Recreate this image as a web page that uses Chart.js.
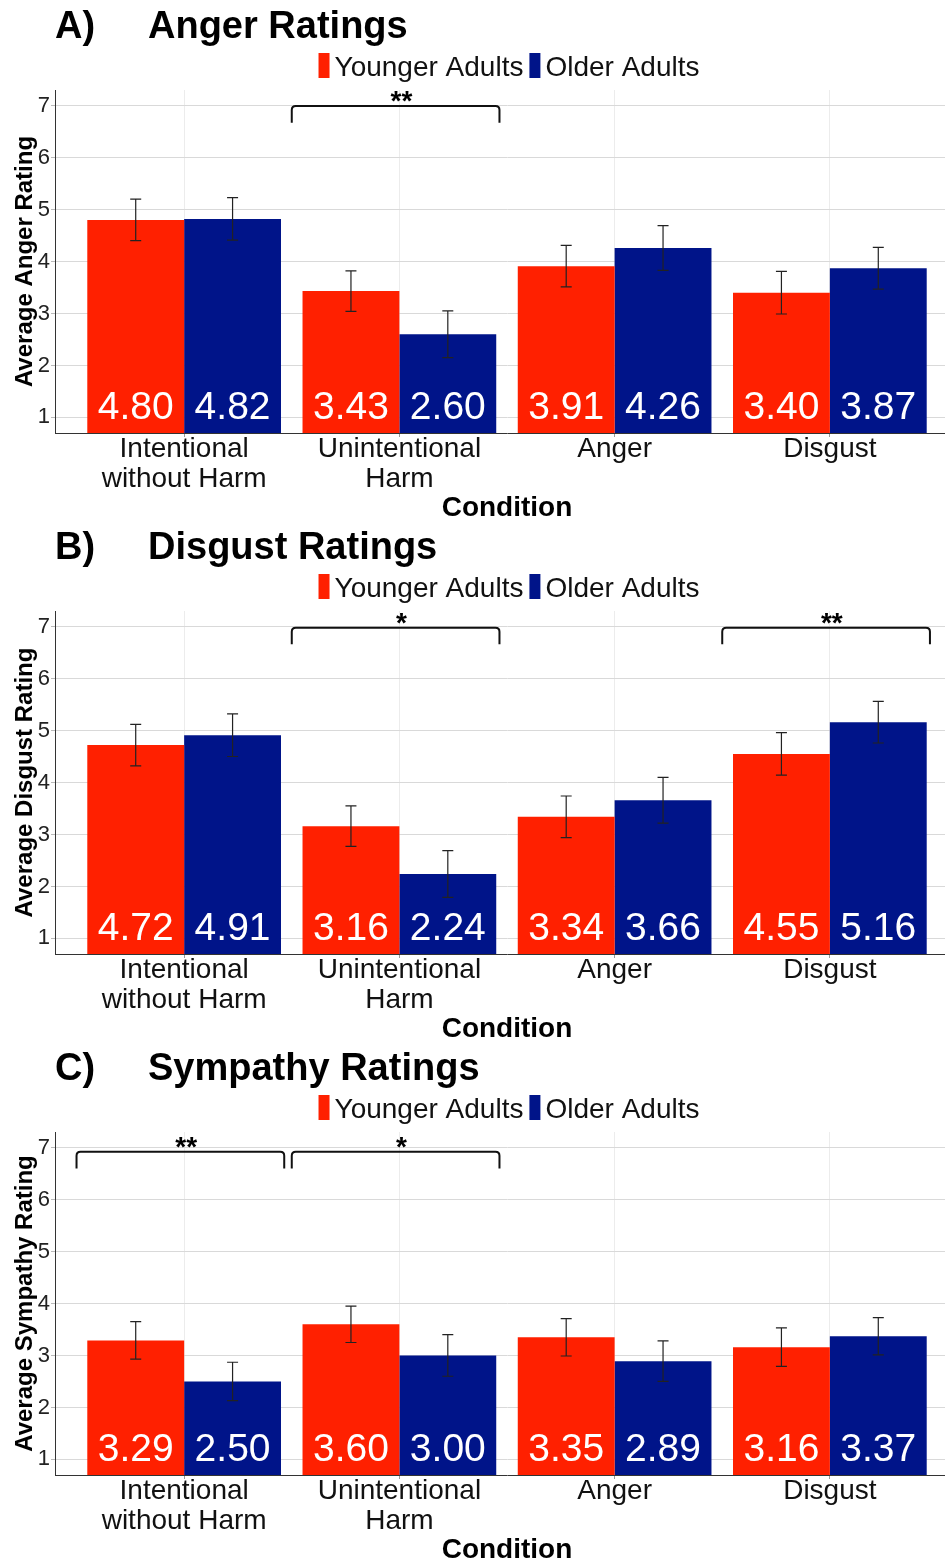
<!DOCTYPE html>
<html>
<head>
<meta charset="utf-8">
<script src="https://cdn.jsdelivr.net/npm/chart.js@4.4.1/dist/chart.umd.min.js"></script>
<style>
    body { margin: 0; background: #fff; width: 945px; overflow: hidden; }
    .panel { width: 945px; height: 521px; overflow: hidden; }
    canvas { display: block; }
</style>
</head>
<body>
<div class="panel"><canvas id="angerChart" width="962" height="521"></canvas></div>
<div class="panel"><canvas id="disgustChart" width="962" height="521"></canvas></div>
<div class="panel"><canvas id="sympathyChart" width="962" height="521"></canvas></div>
<script>
// ============================================
// DATA
// ============================================
const conditions = [['Intentional', 'without Harm'], ['Unintentional', 'Harm'], 'Anger', 'Disgust'];
const groups = ['Younger Adults', 'Older Adults'];
const groupColors = ['#ff2000', '#001489'];
const yTicks = [1, 2, 3, 4, 5, 6, 7];

// A) Anger
const angerYounger = [4.80, 3.43, 3.91, 3.40];
const angerOlder = [4.82, 2.60, 4.26, 3.87];
const angerYoungerSE = [0.40, 0.39, 0.40, 0.41];
const angerOlderSE = [0.41, 0.45, 0.43, 0.40];
const angerSigConditions = [1];
const angerSigLabels = ['**'];

// B) Disgust
const disgustYounger = [4.72, 3.16, 3.34, 4.55];
const disgustOlder = [4.91, 2.24, 3.66, 5.16];
const disgustYoungerSE = [0.40, 0.39, 0.40, 0.41];
const disgustOlderSE = [0.41, 0.45, 0.44, 0.40];
const disgustSigConditions = [1, 3];
const disgustSigLabels = ['*', '**'];

// C) Sympathy
const sympathyYounger = [3.29, 3.60, 3.35, 3.16];
const sympathyOlder = [2.50, 3.00, 2.89, 3.37];
const sympathyYoungerSE = [0.36, 0.35, 0.36, 0.37];
const sympathyOlderSE = [0.37, 0.40, 0.39, 0.36];
const sympathySigConditions = [0, 1];
const sympathySigLabels = ['**', '*'];

const FONT = '"Liberation Sans", Arial, Helvetica, sans-serif';
Chart.defaults.font.family = FONT;
Chart.defaults.color = '#111';

// ============================================
// DRAWING HELPERS (title, legend, error bars, labels, brackets)
// ============================================
const panelPlugin = {
    id: 'panelPlugin',
    afterDraw(chart) {
        const ctx = chart.ctx;
        const cfg = chart.options.plugins.panelPlugin;
        const area = chart.chartArea;

        ctx.save();
        // title
        ctx.fillStyle = '#000';
        ctx.textBaseline = 'alphabetic';
        ctx.textAlign = 'left';
        ctx.font = 'bold 38px ' + FONT;
        ctx.fillText(cfg.letter, 55, 38);
        ctx.fillText(cfg.title, 148, 38);

        // legend
        ctx.font = '28px ' + FONT;
        const boxW = 11, boxH = 25, gapText = 5, gapItem = 6;
        const widths = groups.map(g => ctx.measureText(g).width);
        const total = widths.reduce((s, w) => s + boxW + gapText + w, 0) + gapItem * (groups.length - 1);
        let lx = (area.left + area.right) / 2 + 2 - total / 2;
        groups.forEach((g, i) => {
            ctx.fillStyle = groupColors[i];
            ctx.fillRect(lx, 53, boxW, boxH);
            lx += boxW + gapText;
            ctx.fillStyle = '#111';
            ctx.fillText(g, lx, 76);
            lx += widths[i] + gapItem;
        });
        ctx.restore();
    },
    afterDatasetsDraw(chart) {
        const ctx = chart.ctx;
        const cfg = chart.options.plugins.panelPlugin;
        const xs = chart.scales.x;
        const ys = chart.scales.y;

        ctx.save();
        // error bars
        ctx.strokeStyle = '#222';
        ctx.lineWidth = 1.2;
        chart.data.datasets.forEach((ds, d) => {
            const meta = chart.getDatasetMeta(d);
            meta.data.forEach((bar, i) => {
                const v = ds.data[i].y;
                const se = cfg.errors[d][i];
                const yTop = ys.getPixelForValue(v + se);
                const yBot = ys.getPixelForValue(v - se);
                ctx.beginPath();
                ctx.moveTo(bar.x, yTop); ctx.lineTo(bar.x, yBot);
                ctx.moveTo(bar.x - 5.5, yTop); ctx.lineTo(bar.x + 5.5, yTop);
                ctx.moveTo(bar.x - 5.5, yBot); ctx.lineTo(bar.x + 5.5, yBot);
                ctx.stroke();
            });
        });

        // value labels inside the bars
        ctx.fillStyle = '#fff';
        ctx.font = '39px ' + FONT;
        ctx.textAlign = 'center';
        ctx.textBaseline = 'middle';
        chart.data.datasets.forEach((ds, d) => {
            chart.getDatasetMeta(d).data.forEach((bar, i) => {
                ctx.fillText(ds.data[i].y.toFixed(2), bar.x, ys.getPixelForValue(1.2) + 1);
            });
        });

        // significance brackets
        ctx.strokeStyle = '#111';
        ctx.lineWidth = 2;
        ctx.fillStyle = '#000';
        ctx.font = 'bold 28px ' + FONT;
        ctx.textBaseline = 'alphabetic';
        cfg.sigConditions.forEach((c, k) => {
            const x0 = xs.getPixelForValue(c - 0.5);
            const x1 = xs.getPixelForValue(c + 0.465);
            const yT = ys.getPixelForValue(cfg.bracketLevel);
            const yB = ys.getPixelForValue(cfg.bracketLevel - 0.32);
            const r = 4;
            ctx.beginPath();
            ctx.moveTo(x0, yB);
            ctx.lineTo(x0, yT + r);
            ctx.quadraticCurveTo(x0, yT, x0 + r, yT);
            ctx.lineTo(x1 - r, yT);
            ctx.quadraticCurveTo(x1, yT, x1, yT + r);
            ctx.lineTo(x1, yB);
            ctx.stroke();
            ctx.fillText(cfg.sigLabels[k], xs.getPixelForValue(c) + 2, yT + 4);
        });
        ctx.restore();
    }
};

function makeChart(canvasId, letter, title, yTitle, younger, older, youngerSE, olderSE, sigConditions, sigLabels, bracketLevel) {
    return new Chart(document.getElementById(canvasId), {
        type: 'bar',
        data: {
            datasets: [
                { label: groups[0], data: younger.map((v, i) => ({ x: i, y: v })), backgroundColor: groupColors[0] },
                { label: groups[1], data: older.map((v, i) => ({ x: i, y: v })), backgroundColor: groupColors[1] }
            ]
        },
        options: {
            responsive: false,
            animation: false,
            devicePixelRatio: 1,
            layout: { padding: { top: 90, right: 3, left: 0, bottom: 0 } },
            datasets: { bar: { categoryPercentage: 0.9, barPercentage: 1.0 } },
            plugins: {
                legend: { display: false },
                tooltip: { enabled: false },
                title: { display: false },
                panelPlugin: {
                    letter: letter,
                    title: title,
                    errors: [youngerSE, olderSE],
                    sigConditions: sigConditions,
                    sigLabels: sigLabels,
                    bracketLevel: bracketLevel
                }
            },
            scales: {
                x: {
                    type: 'linear',
                    min: -0.6,
                    max: 3.6,
                    offset: false,
                    afterBuildTicks: (scale) => { scale.ticks = conditions.map((_, i) => ({ value: i })); },
                    afterFit: (scale) => { scale.height = 88; scale.paddingLeft = 0; scale.paddingRight = 0; },
                    ticks: {
                        autoSkip: false,
                        maxRotation: 0,
                        padding: -3,
                        color: '#111',
                        font: { size: 28, lineHeight: 1.07 },
                        callback: (value) => conditions[value]
                    },
                    grid: { offset: false, color: '#ececec', tickColor: '#999', tickLength: 4 },
                    border: { display: true, color: '#333', width: 1 },
                    title: {
                        display: true,
                        text: 'Condition',
                        color: '#000',
                        padding: { top: 0, bottom: 0 },
                        font: { size: 28, weight: 'bold', lineHeight: 0.9 }
                    }
                },
                y: {
                    min: 0.7,
                    max: 7.3,
                    afterBuildTicks: (scale) => { scale.ticks = yTicks.map(v => ({ value: v })); },
                    afterFit: (scale) => { scale.width = 55; },
                    ticks: { padding: 1, color: '#222', font: { size: 22 } },
                    grid: { color: '#d9d9d9', tickColor: '#bbb', tickLength: 4 },
                    border: { display: true, color: '#333', width: 1 },
                    title: {
                        display: true,
                        text: yTitle,
                        color: '#000',
                        padding: { top: 11, bottom: 0 },
                        font: { size: 24, weight: 'bold' }
                    }
                }
            }
        },
        plugins: [panelPlugin]
    });
}

makeChart('angerChart', 'A)', 'Anger Ratings', 'Average Anger Rating',
    angerYounger, angerOlder, angerYoungerSE, angerOlderSE, angerSigConditions, angerSigLabels, 6.99);
makeChart('disgustChart', 'B)', 'Disgust Ratings', 'Average Disgust Rating',
    disgustYounger, disgustOlder, disgustYoungerSE, disgustOlderSE, disgustSigConditions, disgustSigLabels, 6.98);
makeChart('sympathyChart', 'C)', 'Sympathy Ratings', 'Average Sympathy Rating',
    sympathyYounger, sympathyOlder, sympathyYoungerSE, sympathyOlderSE, sympathySigConditions, sympathySigLabels, 6.92);
</script>
</body>
</html>
